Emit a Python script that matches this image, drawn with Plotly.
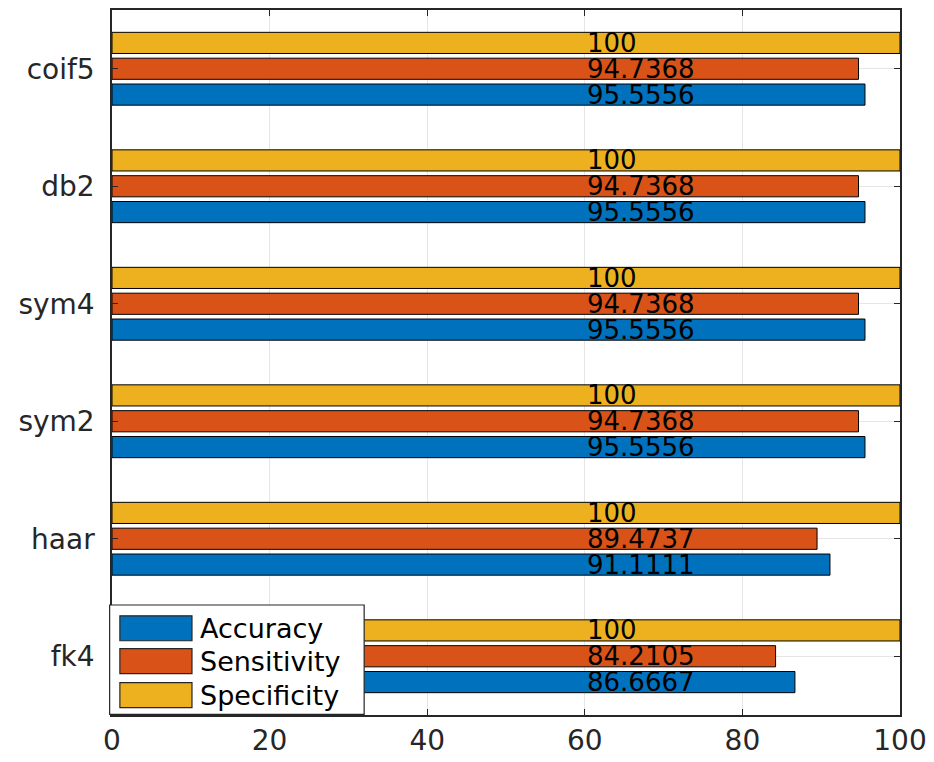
import plotly.graph_objects as go

categories = ["fk4", "haar", "sym2", "sym4", "db2", "coif5"]
accuracy = [86.6667, 91.1111, 95.5556, 95.5556, 95.5556, 95.5556]
sensitivity = [84.2105, 89.4737, 94.7368, 94.7368, 94.7368, 94.7368]
specificity = [100, 100, 100, 100, 100, 100]
series_names = ["Accuracy", "Sensitivity", "Specificity"]
series_colors = ["#0072BD", "#D95319", "#EDB120"]
x_ticks = [0, 20, 40, 60, 80, 100]
label_x = 60

series = [accuracy, sensitivity, specificity]
pos = list(range(1, len(categories) + 1))
pitch = 0.22
width = 0.18
font = "DejaVu Sans, Arial, sans-serif"

fig = go.Figure()
annotations = []
shapes = []
for k, (name, vals, col) in enumerate(zip(series_names, series, series_colors)):
    center_off = (k - 1) * pitch
    fig.add_trace(go.Bar(
        y=pos, x=vals, orientation="h", name=name, showlegend=False,
        marker=dict(color=col, line=dict(color="#000000", width=1)),
        width=width, offset=center_off - width / 2,
    ))
    for p, v in zip(pos, vals):
        annotations.append(dict(
            x=label_x, y=p + center_off, xref="x", yref="y",
            text=f"{v:g}", showarrow=False, xanchor="left", yanchor="middle",
            font=dict(family=font, size=26, color="#000000"),
        ))

# Legend box (MATLAB style, lower-left inside the axes)
shapes.append(dict(type="rect", xref="x domain", yref="y domain",
                   x0=-0.003, x1=0.320, y0=0.001, y1=0.156,
                   fillcolor="white", line=dict(color="#262626", width=1.2),
                   layer="above"))
legend_y = [0.123, 0.0764, 0.0283]
sw_half = 0.0177
for name, col, yc in zip(series_names, series_colors, legend_y):
    shapes.append(dict(type="rect", xref="x domain", yref="y domain",
                       x0=0.010, x1=0.1015, y0=yc - sw_half, y1=yc + sw_half,
                       fillcolor=col, line=dict(color="#262626", width=1.2),
                       layer="above"))
    annotations.append(dict(
        x=0.109, y=yc, xref="x domain", yref="y domain",
        text=name, showarrow=False, xanchor="left", yanchor="middle",
        font=dict(family=font, size=27, color="#000000"),
    ))

fig.update_layout(
    width=934, height=762,
    margin=dict(l=104, r=42, t=0, b=55),
    paper_bgcolor="white", plot_bgcolor="white",
    barmode="overlay",
    annotations=annotations,
    shapes=shapes,
    showlegend=False,
    font=dict(family=font, color="#262626"),
)
fig.update_xaxes(
    range=[0, 100], tickvals=x_ticks,
    showgrid=True, gridcolor="#e6e6e6", gridwidth=1,
    showline=True, linecolor="#262626", linewidth=1.5, mirror="allticks",
    ticks="inside", ticklen=6, tickcolor="#262626",
    tickfont=dict(family=font, size=28, color="#262626"),
    zeroline=False, fixedrange=True,
)
fig.update_yaxes(
    range=[0.5, len(categories) + 0.5], tickvals=pos, ticktext=categories,
    showgrid=True, gridcolor="#e6e6e6", gridwidth=1,
    showline=True, linecolor="#262626", linewidth=1.5, mirror="allticks",
    ticks="inside", ticklen=6, tickcolor="#262626",
    tickfont=dict(family=font, size=28, color="#262626"),
    ticklabelstandoff=10,
    zeroline=False, fixedrange=True,
)

fig.write_html("out.html")
